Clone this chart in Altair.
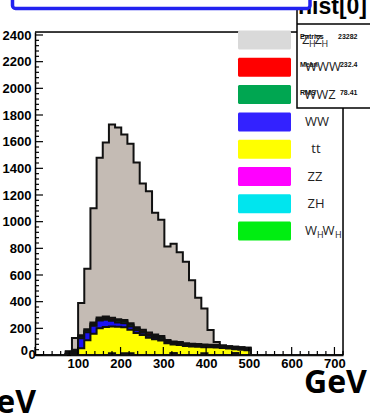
import altair as alt
import pandas as pd

# Histogram binning: 50 bins of 14.4 GeV over 0-720 GeV
N_BINS = 50
BIN_WIDTH = 14.4
X_MAX = 720.0
Y_MAX = 2422.5
FIRST_BIN = 5  # first bin of the arrays below

# Stacked contributions per bin (bins 5..34), bottom of the stack first
whwh = [8, 0, 0, 0, 0, 0, 0, 0, 0, 0, 0, 0, 0, 0, 0, 0, 0, 0, 0, 0, 0, 0, 0, 0, 0, 0, 0, 0, 0, 0]
zh = [0, 0, 0, 0, 0, 0, 0, 0, 0, 0, 0, 0, 0, 0, 0, 0, 0, 14, 0, 0, 0, 0, 0, 0, 0, 0, 0, 14, 0, 0]
zz = [0, 0, 0, 0, 0, 0, 0, 14, 0, 14, 14, 0, 0, 0, 0, 0, 0, 0, 0, 0, 0, 0, 14, 0, 0, 0, 0, 0, 0, 0]
tt = [0, 8, 50, 110, 160, 200, 210, 200, 212, 195, 175, 165, 150, 130, 118, 108, 88, 65, 75, 68,
      64, 62, 45, 58, 57, 52, 48, 30, 40, 36]
ww = [0, 12, 75, 60, 60, 58, 55, 42, 32, 30, 25, 20, 16, 14, 12, 10, 8, 7, 6, 5,
      5, 4, 4, 3, 3, 3, 2, 2, 2, 2]
wwz = [8, 10, 12, 12, 12, 12, 12, 12, 12, 12, 12, 12, 12, 12, 12, 12, 8, 8, 8, 8,
       8, 8, 8, 8, 8, 8, 8, 8, 8, 8]
www = [8, 10, 12, 12, 12, 12, 12, 12, 12, 12, 12, 12, 12, 12, 12, 12, 8, 8, 8, 8,
       8, 8, 8, 8, 8, 8, 8, 8, 8, 8]
zhzh = [5, 88, 241, 453, 856, 1198, 1305, 1448, 1439, 1390, 1347, 1234, 1096, 1060, 913, 873, 702, 732, 673, 610,
        475, 348, 270, 111, 22, 0, 0, 0, 0, 0]

stack_order = ["WHWH", "ZH", "ZZ", "tt", "WW", "WWZ", "WWW", "ZHZH"]
series = {"WHWH": whwh, "ZH": zh, "ZZ": zz, "tt": tt, "WW": ww, "WWZ": wwz, "WWW": www, "ZHZH": zhzh}
fill_colors = {"WHWH": "#00e81a", "ZH": "#00e5ee", "ZZ": "#ff00ff", "tt": "#ffff00",
               "WW": "#1a12f5", "WWZ": "#00a651", "WWW": "#ff0000", "ZHZH": "#c4bbb4"}

# Legend entries, top to bottom
legend_names = ["ZHZH", "WWW", "WWZ", "WW", "tt", "ZZ", "ZH", "WHWH"]
legend_swatch = ["#d9d9d9", "#ff0000", "#00a651", "#3322ff", "#ffff00", "#ff00ff", "#00e5ee", "#00ee11"]

# Statistics box contents
stats_title = "hist[0]"
stats_keys = ["Entries", "Mean", "RMS"]
stats_vals = ["23282", "232.4", "78.41"]

y_major = list(range(0, 2401, 200))
y_minor = [v for v in range(0, 2401, 40) if v % 200]
x_major = list(range(0, 701, 100))
x_minor = [v for v in range(0, 721, 20) if v % 100]

# ---- cumulative step table ----
edges = [i * BIN_WIDTH for i in range(N_BINS + 1)]


def full(vals):
    return [0] * FIRST_BIN + vals + [0] * (N_BINS - FIRST_BIN - len(vals))


rows = []
cum = [0] * N_BINS
for name in stack_order:
    cum = [a + b for a, b in zip(cum, full(series[name]))]
    for i in range(N_BINS + 1):
        rows.append({"series": name, "x": edges[i], "hi": cum[min(i, N_BINS - 1)], "lo": 0})
hist = pd.DataFrame(rows)

W, H = 308, 323
LABEL_FONT = "Liberation Sans"
LABEL_SIZE = 13
xs = alt.Scale(domain=[0, X_MAX], nice=False, zero=False)
ys = alt.Scale(domain=[0, Y_MAX], nice=False, zero=False)
XAX = alt.Axis(values=x_major[1:], format="d", title=None, grid=False, ticks=False, tickSize=0,
               labelFont=LABEL_FONT, labelFontWeight="bold", labelFontSize=LABEL_SIZE,
               labelColor="#000", labelPadding=2, domainColor="#000", domainWidth=1.5)
YAX = alt.Axis(values=y_major[1:], format="d", title=None, grid=False, ticks=False, tickSize=0,
               labelFont=LABEL_FONT, labelFontWeight="bold", labelFontSize=LABEL_SIZE,
               labelColor="#000", labelPadding=4, domainColor="#000", domainWidth=1.5)

layers = []
base = alt.Chart(hist)
# ROOT draws the stack from the total downwards, each with fill and outline
for name in reversed(stack_order):
    sel = base.transform_filter(alt.datum.series == name)
    layers.append(sel.mark_area(interpolate="step-after", color=fill_colors[name]).encode(
        x=alt.X("x:Q", scale=xs, axis=XAX),
        y=alt.Y("hi:Q", scale=ys, stack=None, axis=YAX),
        y2="lo:Q"))
    layers.append(sel.mark_line(interpolate="step-after", color="#111", strokeWidth=2).encode(
        x=alt.X("x:Q", scale=xs, axis=XAX),
        y=alt.Y("hi:Q", scale=ys, axis=YAX)))


# inward ticks
def ticks_y(vals, length):
    return alt.Chart(pd.DataFrame({"v": vals})).mark_rule(color="#000", strokeWidth=1.2).encode(
        y=alt.Y("v:Q", scale=ys, axis=YAX), x=alt.value(0), x2=alt.value(length))


def ticks_x(vals, length):
    return alt.Chart(pd.DataFrame({"v": vals})).mark_rule(color="#000", strokeWidth=1.2).encode(
        x=alt.X("v:Q", scale=xs, axis=XAX), y=alt.value(H), y2=alt.value(H - length))


layers += [ticks_y(y_major, 8), ticks_y(y_minor, 4), ticks_x(x_major, 8), ticks_x(x_minor, 4)]

one = alt.Data(values=[{}])


def rect(x, x2, y, y2, **kw):
    return alt.Chart(one).mark_rect(**kw).encode(
        x=alt.value(x), x2=alt.value(x2), y=alt.value(y), y2=alt.value(y2))


def rule(x, x2, y, y2, **kw):
    return alt.Chart(one).mark_rule(**kw).encode(
        x=alt.value(x), x2=alt.value(x2), y=alt.value(y), y2=alt.value(y2))


def text(x, y, s, size, font="Open Sans", weight="normal", align="left", baseline="middle", color="#222"):
    return alt.Chart(one).mark_text(text=s, fontSize=size, font=font, fontWeight=weight,
                                    align=align, baseline=baseline, color=color).encode(
        x=alt.value(x), y=alt.value(y))


# frame top and right
layers.append(rule(0, W, 0, 0, color="#000", strokeWidth=1.5))
layers.append(rule(W, W, 0, H, color="#000", strokeWidth=1.5))

# zero labels of both axes
layers.append(text(-7, 319, "0", LABEL_SIZE, font=LABEL_FONT, weight="bold", align="right", color="#000"))
layers.append(text(-3, 323, "0", LABEL_SIZE, font=LABEL_FONT, weight="bold", align="center", color="#000"))

# legend swatches
ROW0, ROW_STEP = 8, 27.3
for i, c in enumerate(legend_swatch):
    cy = ROW0 + i * ROW_STEP
    layers.append(rect(203, 256, cy - 9.5, cy + 9.5, color=c, cornerRadius=1.5))

# statistics box
layers.append(rect(262, 345, -40, 76, fill="#fff", stroke="#000", strokeWidth=1.5))
layers.append(rule(262, 345, -8, -8, color="#000", strokeWidth=1.5))
layers.append(text(263, -18, stats_title, 23, font=LABEL_FONT, weight="bold", baseline="alphabetic", color="#000"))
for i, (k, v) in enumerate(zip(stats_keys, stats_vals)):
    sy = 5 + i * 28
    layers.append(text(265, sy, k, 7, font=LABEL_FONT, weight="bold", color="#111"))
    layers.append(text(322.5, sy, v, 7, font=LABEL_FONT, weight="bold", align="right", color="#111"))


# legend labels
def sub_label(cy, parts):
    out = []
    for x, s, is_sub in parts:
        if is_sub:
            out.append(text(x, cy + 4, s, 9))
        else:
            out.append(text(x, cy, s, 13))
    return out


row_y = [ROW0 + i * ROW_STEP for i in range(len(legend_names))]
layers += sub_label(row_y[0], [(267, "Z", False), (274, "H", True), (279.5, "Z", False), (286.5, "H", True)])
layers.append(text(288, row_y[1], "WWW", 13, align="center"))
layers.append(text(285, row_y[2], "WWZ", 13, align="center"))
layers.append(text(282, row_y[3], "WW", 13, align="center"))
layers.append(text(281, row_y[4], "tt", 13, align="center"))
layers.append(text(280, row_y[5], "ZZ", 13, align="center"))
layers.append(text(281, row_y[6], "ZH", 13, align="center"))
layers += sub_label(row_y[7], [(270, "W", False), (282, "H", True), (287.5, "W", False), (300, "H", True)])

# title frame at the top
layers.append(rect(-22.5, 275, -45, -23.5, fill="#fff", stroke="#2222f0", strokeWidth=3.5, cornerRadius=3))

# unit labels
layers.append(text(269, 361, "GeV", 32, weight="bold", baseline="alphabetic", color="#000"))
layers.append(text(1, 381, "GeV", 32, weight="bold", align="right", baseline="alphabetic", color="#000"))

chart = alt.layer(*layers).properties(
    width=W, height=H,
    padding={"left": 35, "top": 32, "right": 27, "bottom": 64},
    autosize=alt.AutoSizeParams(type="none"),
).configure_view(stroke=None).configure(background="#ffffff")

chart.save("out.html", embed_options={"renderer": "svg", "actions": False})
